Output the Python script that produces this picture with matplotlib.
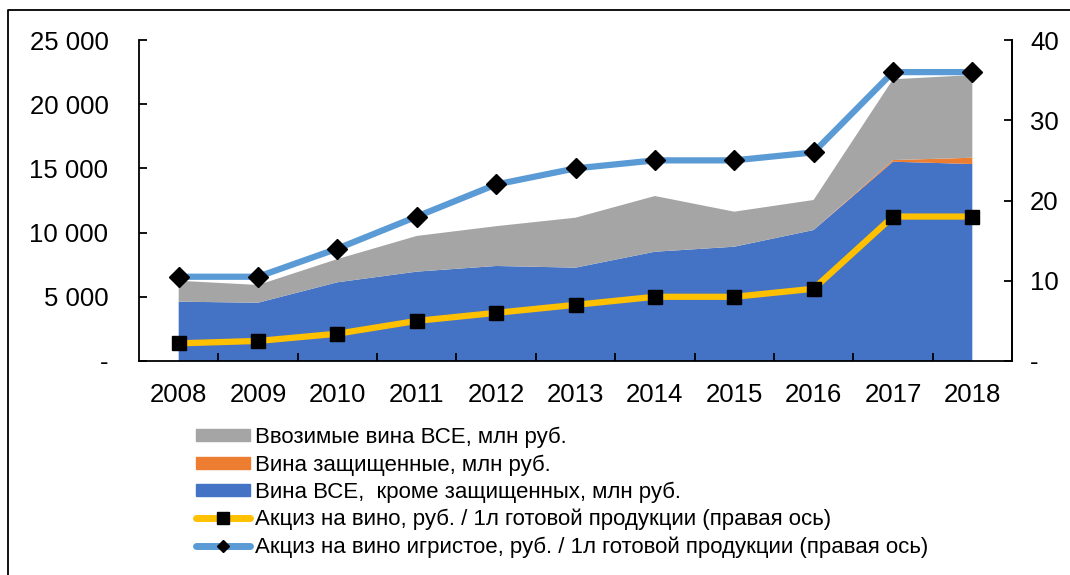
import matplotlib
matplotlib.use("Agg")
import matplotlib.pyplot as plt
from matplotlib.lines import Line2D
from matplotlib.patches import Patch
import numpy as np

plt.rcParams['font.family'] = ['Liberation Sans', 'DejaVu Sans']

years = ['2008', '2009', '2010', '2011', '2012', '2013', '2014', '2015', '2016', '2017', '2018']
wine_other = [4620, 4540, 6130, 6960, 7400, 7270, 8510, 8900, 10200, 15520, 15340]
wine_protected = [0, 0, 0, 0, 0, 0, 0, 0, 0, 130, 490]
wine_imported = [1630, 1380, 1810, 2780, 3100, 3890, 4340, 2730, 2340, 6290, 6440]
excise_wine = [2.2, 2.5, 3.4, 5, 6, 7, 8, 8, 9, 18, 18]
excise_sparkling = [10.5, 10.5, 14, 18, 22, 24, 25, 25, 26, 36, 36]

labels = ['Ввозимые вина ВСЕ, млн руб.',
          'Вина защищенные, млн руб.',
          'Вина ВСЕ,  кроме защищенных, млн руб.',
          'Акциз на вино, руб. / 1л готовой продукции (правая ось)',
          'Акциз на вино игристое, руб. / 1л готовой продукции (правая ось)']

c_blue = '#4472C4'
c_orange = '#ED7D31'
c_gray = '#A5A5A5'
c_yellow = '#FFC000'
c_lblue = '#5B9BD5'

W, H = 1070, 575
fig = plt.figure(figsize=(W / 100, H / 100), dpi=100)
ax = fig.add_axes([139 / W, 1 - 361 / H, (1012 - 139) / W, (361 - 40) / H])
x = np.arange(len(years))

ax.stackplot(x, wine_other, wine_protected, wine_imported,
             colors=[c_blue, c_orange, c_gray], linewidth=0)
ax.set_xlim(-0.5, len(years) - 0.5)
ax.set_ylim(0, 25000)
ax.set_yticks(np.arange(0, 25001, 5000))
ax.set_yticklabels(['-' if v == 0 else f'{v:,}'.replace(',', ' ') for v in range(0, 25001, 5000)])
ax.set_xticks(x)
ax.set_xticklabels(years)
ax.set_xticks(np.arange(0.5, len(years) - 1, 1), minor=True)

ax2 = ax.twinx()
ax2.set_ylim(0, 40)
ax2.set_yticks([0, 10, 20, 30, 40])
ax2.set_yticklabels(['-', '10', '20', '30', '40'])
ax2.plot(x, excise_wine, color=c_yellow, lw=4.5, marker='s', markersize=10,
         markerfacecolor='black', markeredgecolor='black', solid_capstyle='round', zorder=3)
ax2.plot(x, excise_sparkling, color=c_lblue, lw=4.5, marker='D', markersize=10,
         markerfacecolor='black', markeredgecolor='black', solid_capstyle='round', zorder=3)

for a in (ax, ax2):
    a.spines['top'].set_visible(False)
    for s in ('left', 'right', 'bottom'):
        a.spines[s].set_linewidth(1.3)
        a.spines[s].set_color('black')

ax.tick_params(axis='y', direction='in', length=6, width=1.3, pad=22, labelsize=18.5)
ax2.tick_params(axis='y', direction='in', length=6, width=1.3, pad=13, labelsize=18.5)
ax.tick_params(axis='x', which='major', length=0, pad=16, labelsize=18.5)
ax.tick_params(axis='x', which='minor', direction='in', length=6, width=1.3)
ax2.spines['left'].set_visible(False)
ax2.spines['bottom'].set_visible(False)

handles = [Patch(color=c_gray), Patch(color=c_orange), Patch(color=c_blue),
           Line2D([], [], color=c_yellow, lw=5, marker='s', markersize=8,
                  markerfacecolor='black', markeredgecolor='black', solid_capstyle='round'),
           Line2D([], [], color=c_lblue, lw=5, marker='D', markersize=6,
                  markerfacecolor='black', markeredgecolor='black', solid_capstyle='round')]
fig.legend(handles, labels, loc='upper left', bbox_to_anchor=(196 / W, 1 - 427 / H),
           frameon=False, fontsize=16, handlelength=2.45, handleheight=0.45,
           handletextpad=0.2, labelspacing=0.27, borderaxespad=0, borderpad=0)

# chart border
fig.add_artist(Line2D([8 / W, 8 / W, 1.0], [0.0, 1 - 10 / H, 1 - 10 / H],
                      color='black', lw=1.3, transform=fig.transFigure))

fig.savefig('out.png', dpi=100)
